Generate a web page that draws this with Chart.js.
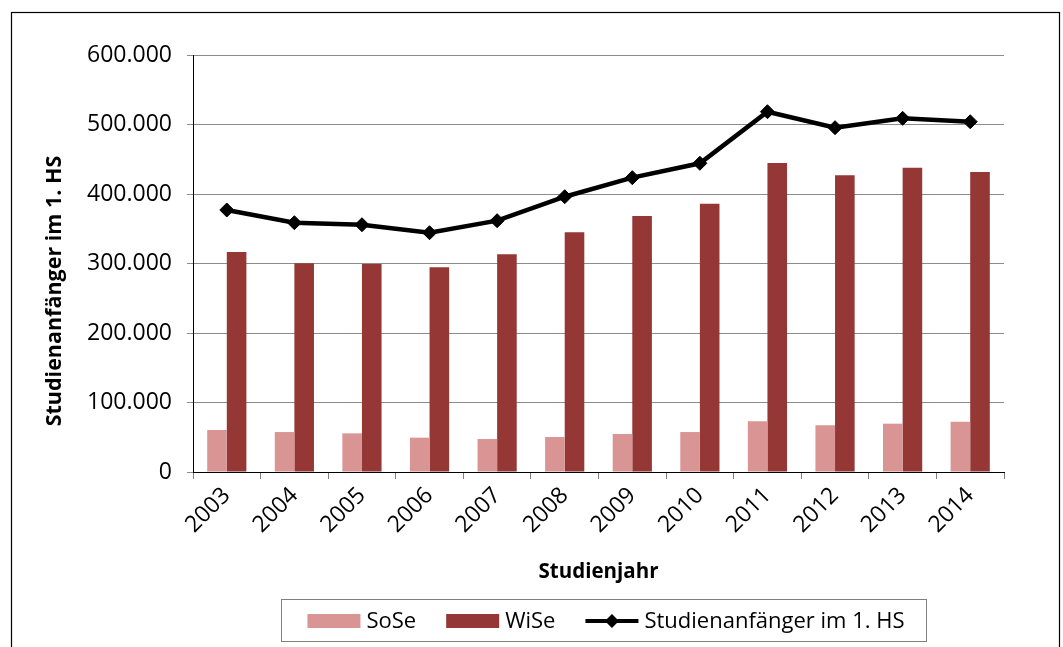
<!DOCTYPE html>
<html lang="de">
<head>
    <meta charset="UTF-8">
    <title>Studienanfänger im 1. HS</title>
    <script src="https://cdn.jsdelivr.net/npm/chart.js"></script>
    <style>
        body {
            margin: 0;
            padding: 0;
            background: #fff;
        }
        #wrap {
            width: 1063px;
            height: 647px;
        }
    </style>
</head>
<body>
    <div id="wrap"><canvas id="chart" width="1063" height="647"></canvas></div>

    <script>
        const years = ['2003', '2004', '2005', '2006', '2007', '2008', '2009', '2010', '2011', '2012', '2013', '2014'];
        const sose = [60400, 57500, 55600, 49400, 47500, 50400, 54700, 57500, 72900, 67200, 69500, 72400];
        const wise = [316500, 300300, 299300, 294500, 313200, 344900, 368300, 386000, 444600, 426900, 437800, 431700];
        const total = [377000, 358700, 355800, 344300, 361600, 396100, 423500, 444200, 518400, 495400, 508900, 504000];
        const yMax = 600000;
        const yStep = 100000;

        const FONT = '"Open Sans", "Noto Sans", sans-serif';

        const fmt = (v) => String(v).replace(/\B(?=(\d{3})+(?!\d))/g, '.');

        // outer frame, y title and the boxed legend
        const decor = {
            id: 'decor',
            afterDraw(chart) {
                const ctx = chart.ctx;
                ctx.save();
                ctx.strokeStyle = '#000';
                ctx.lineWidth = 1.2;
                ctx.strokeRect(11.5, 12.5, 1048, 700);

                // y axis title
                ctx.fillStyle = '#000';
                ctx.font = 'bold 21.5px ' + FONT;
                ctx.textAlign = 'center';
                ctx.textBaseline = 'middle';
                ctx.translate(55, 291);
                ctx.rotate(-Math.PI / 2);
                ctx.fillText('Studienanfänger im 1. HS', 0, 0);
                ctx.restore();

                // legend
                ctx.save();
                ctx.strokeStyle = '#7f7f7f';
                ctx.lineWidth = 1;
                ctx.strokeRect(281.5, 599.5, 645, 42);
                ctx.font = '22px ' + FONT;
                ctx.textBaseline = 'middle';
                ctx.fillStyle = '#000';
                const sets = [chart.data.datasets[1], chart.data.datasets[2], chart.data.datasets[0]];
                const swatch = 53, gap = 6, itemGap = 30, cy = 621;
                let w = 0;
                sets.forEach((d, i) => {
                    w += swatch + gap + ctx.measureText(d.label).width + (i < sets.length - 1 ? itemGap : 0);
                });
                let x = 606 - w / 2;
                sets.forEach((d) => {
                    if (d.type === 'line') {
                        ctx.strokeStyle = d.borderColor;
                        ctx.lineWidth = 4;
                        ctx.beginPath();
                        ctx.moveTo(x, cy);
                        ctx.lineTo(x + swatch, cy);
                        ctx.stroke();
                        ctx.fillStyle = d.borderColor;
                        const cx = x + swatch / 2, r = 7;
                        ctx.beginPath();
                        ctx.moveTo(cx, cy - r);
                        ctx.lineTo(cx + r, cy);
                        ctx.lineTo(cx, cy + r);
                        ctx.lineTo(cx - r, cy);
                        ctx.closePath();
                        ctx.fill();
                    } else {
                        ctx.fillStyle = d.backgroundColor;
                        ctx.fillRect(x, cy - 7, swatch, 14);
                    }
                    x += swatch + gap;
                    ctx.fillStyle = '#000';
                    ctx.textAlign = 'left';
                    ctx.fillText(d.label, x, cy + 1);
                    x += ctx.measureText(d.label).width + itemGap;
                });
                ctx.restore();
            }
        };

        new Chart(document.getElementById('chart'), {
            data: {
                labels: years,
                datasets: [
                    {
                        type: 'line',
                        label: 'Studienanfänger im 1. HS',
                        data: total,
                        borderColor: '#000000',
                        backgroundColor: '#000000',
                        borderWidth: 4.5,
                        tension: 0,
                        pointStyle: 'rectRot',
                        pointRadius: 7,
                        pointBorderWidth: 1,
                        pointBackgroundColor: '#000000',
                        pointBorderColor: '#000000',
                        order: 0
                    },
                    {
                        type: 'bar',
                        label: 'SoSe',
                        data: sose,
                        backgroundColor: '#d99594',
                        categoryPercentage: 0.58,
                        barPercentage: 1.0,
                        order: 1
                    },
                    {
                        type: 'bar',
                        label: 'WiSe',
                        data: wise,
                        backgroundColor: '#953735',
                        categoryPercentage: 0.58,
                        barPercentage: 1.0,
                        order: 1
                    }
                ]
            },
            options: {
                responsive: false,
                devicePixelRatio: 1,
                animation: false,
                layout: {
                    padding: { left: 30, right: 59, top: 55, bottom: 55 }
                },
                plugins: {
                    legend: { display: false },
                    tooltip: { enabled: false }
                },
                scales: {
                    x: {
                        offset: true,
                        grid: {
                            offset: true,
                            drawOnChartArea: false,
                            tickLength: 7,
                            color: '#7f7f7f'
                        },
                        border: { color: '#000', width: 1 },
                        ticks: {
                            color: '#000',
                            font: { family: FONT, size: 23 },
                            minRotation: 45,
                            maxRotation: 45,
                            padding: 3
                        },
                        title: {
                            display: true,
                            text: 'Studienjahr',
                            color: '#000',
                            font: { family: FONT, size: 20.5, weight: 'bold' },
                            padding: { top: 0, bottom: 8 }
                        },
                        afterFit: (s) => { s.height = 120; }
                    },
                    y: {
                        min: 0,
                        max: yMax,
                        grid: {
                            color: '#8c8c8c',
                            tickLength: 6
                        },
                        border: { color: '#000', width: 1 },
                        ticks: {
                            stepSize: yStep,
                            color: '#000',
                            font: { family: FONT, size: 23 },
                            padding: 15,
                            callback: (v) => fmt(v)
                        },
                        afterFit: (s) => { s.width = 163; }
                    }
                }
            },
            plugins: [decor]
        });
    </script>
</body>
</html>
